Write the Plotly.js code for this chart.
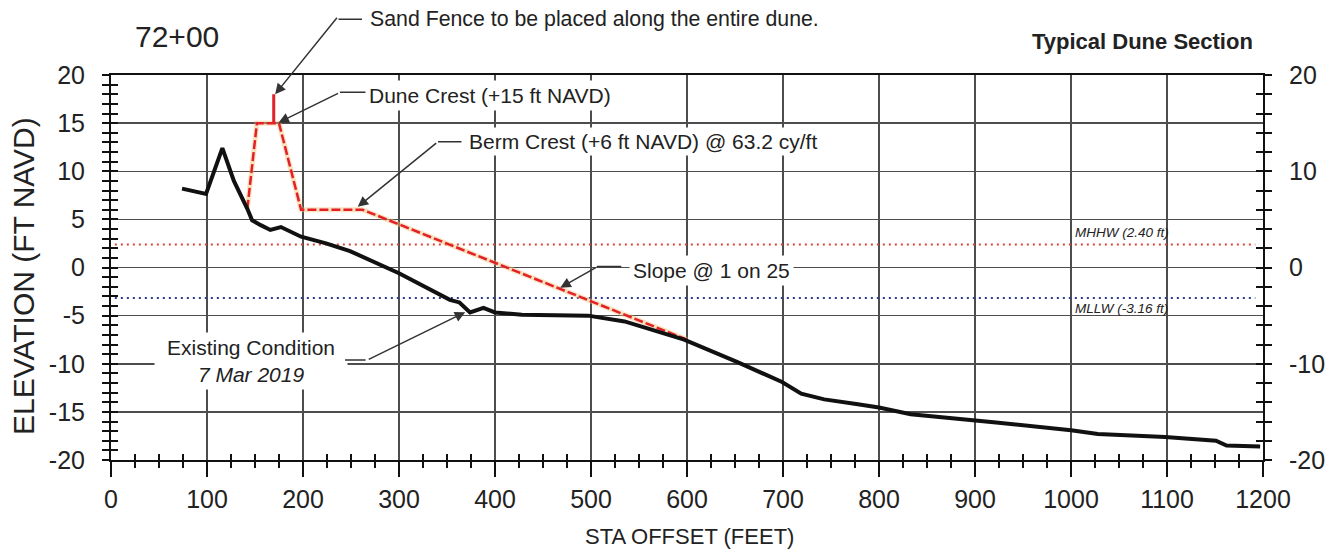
<!DOCTYPE html>
<html>
<head>
<meta charset="utf-8">
<script src="https://cdn.plot.ly/plotly-3.0.1.min.js"></script>
<style>html,body{margin:0;padding:0;background:#fff;}#chart{width:1325px;height:557px;}</style>
</head>
<body>
<div id="chart"></div>
<script>
// ---- Data ----
const existingX = [74, 99, 116, 128, 142, 147, 156, 166, 177, 198, 224, 249, 300, 353, 363, 374, 388, 400, 428, 497, 535, 597, 652, 699, 719, 743, 778, 800, 833, 898, 922, 1000, 1028, 1098, 1151, 1162, 1197];
const existingY = [8.2, 7.65, 12.4, 9.0, 6.1, 4.9, 4.4, 3.9, 4.2, 3.2, 2.5, 1.7, -0.6, -3.36, -3.63, -4.67, -4.2, -4.67, -4.9, -5.0, -5.6, -7.5, -9.8, -11.9, -13.1, -13.7, -14.2, -14.55, -15.25, -15.8, -16.1, -16.9, -17.3, -17.6, -18.0, -18.5, -18.6];
const designX = [142, 152, 175, 198, 262, 600];
const designY = [6.1, 15, 15, 6, 6, -7.5];
const fenceX = [169.5, 169.5];
const fenceY = [15, 18];
const mhhwX = [4, 1192];
const mhhwY = [2.4, 2.4];
const mllwX = [4, 1192];
const mllwY = [-3.16, -3.16];
const xTickVals = [0, 100, 200, 300, 400, 500, 600, 700, 800, 900, 1000, 1100, 1200];
const xTickText = ["0", "100", "200", "300", "400", "500", "600", "700", "800", "900", "1000", "1100", "1200"];
const yTickVals = [20, 15, 10, 5, 0, -5, -10, -15, -20];
const yTickText = ["20", "15", "10", "5", "0", "-5", "-10", "-15", "-20"];
const yRightVals = [20, 10, 0, -10, -20];
const yRightText = ["20", "10", "0", "-10", "-20"];

const FA = "'Liberation Sans', Arial, sans-serif";
const TXT = '#222';

const traces = [
  {x: mhhwX, y: mhhwY, mode: 'lines', line: {color: '#d9443a', width: 2, dash: '2px,4px'}, hoverinfo: 'skip'},
  {x: mllwX, y: mllwY, mode: 'lines', line: {color: '#2b3b8f', width: 2, dash: '2px,4px'}, hoverinfo: 'skip'},
  {x: designX, y: designY, mode: 'lines', line: {color: 'rgba(245,190,110,0.45)', width: 5}, hoverinfo: 'skip'},
  {x: designX, y: designY, mode: 'lines', line: {color: '#e3202a', width: 2.5, dash: '9px,3px'}, hoverinfo: 'skip'},
  {x: fenceX, y: fenceY, mode: 'lines', line: {color: '#e3202a', width: 3}, hoverinfo: 'skip'},
  {x: existingX, y: existingY, mode: 'lines', line: {color: '#111', width: 4}, hoverinfo: 'skip'},
  {x: [], y: [], xaxis: 'x2', yaxis: 'y2', hoverinfo: 'skip'},
  {x: [], y: [], xaxis: 'x', yaxis: 'y3', hoverinfo: 'skip'},
  {x: [], y: [], xaxis: 'x', yaxis: 'y4', hoverinfo: 'skip'}
];

const leader = {showarrow: true, arrowcolor: '#333', arrowwidth: 1.5, standoff: 0, startstandoff: 0, text: ''};
function line(x, y, ax, ay, yref) { return Object.assign({}, leader, {x: x, y: y, ax: ax, ay: ay, arrowhead: 0, yref: yref || 'y'}); }
function arrow(x, y, ax, ay) { return Object.assign({}, leader, {x: x, y: y, ax: ax, ay: ay, arrowhead: 2, arrowsize: 1.4}); }

const annotations = [
  {xref: 'paper', yref: 'paper', x: 0.019, y: 1.101, xanchor: 'left', yanchor: 'middle', text: '72+00', showarrow: false, font: {family: FA, size: 30, color: TXT}},
  {xref: 'paper', yref: 'paper', x: 0.993, y: 1.088, xanchor: 'right', yanchor: 'middle', text: '<b>Typical Dune Section</b>', showarrow: false, font: {family: FA, size: 22, color: TXT}},
  {xref: 'paper', yref: 'paper', x: -0.076, y: 0.479, xanchor: 'center', yanchor: 'middle', textangle: -90, text: 'ELEVATION (FT NAVD)', showarrow: false, font: {family: FA, size: 30, color: TXT}},
  {xref: 'paper', yref: 'paper', x: 0.5026, y: -0.199, xanchor: 'center', yanchor: 'middle', text: 'STA OFFSET (FEET)', showarrow: false, font: {family: FA, size: 22, color: TXT}},
  // Sand fence
  {x: 268, yref: 'paper', y: 1.145, xanchor: 'left', yanchor: 'middle', text: 'Sand Fence to be placed along the entire dune.', showarrow: false, font: {family: FA, size: 21.3, color: TXT}},
  line(237, 1.145, 25, 0, 'paper'),
  arrow(171, 18.0, 63, -78),
  // Dune crest
  {x: 267.7, y: 17.9, xanchor: 'left', yanchor: 'middle', text: 'Dune Crest (+15 ft NAVD)', showarrow: false, bgcolor: 'white', width: 258, height: 29, align: 'left', borderpad: 0, font: {family: FA, size: 21, color: TXT}},
  line(238.5, 18.2, 27, 0),
  arrow(174.5, 15.05, 61, -30),
  // Berm crest
  {x: 370, y: 13.07, xanchor: 'left', yanchor: 'middle', text: 'Berm Crest (+6 ft NAVD) @ 63.2 cy/ft', showarrow: false, bgcolor: 'white', borderpad: 2, font: {family: FA, size: 21, color: TXT}},
  line(340.6, 13.07, 25, 0),
  arrow(257, 6.3, 80, -65),
  // Slope
  {x: 540, y: -0.3, xanchor: 'left', yanchor: 'middle', text: 'Slope @ 1 on 25', showarrow: false, bgcolor: 'white', borderpad: 3, font: {family: FA, size: 21, color: TXT}},
  line(506, 0.1, 26, 0),
  arrow(468, -2.1, 37, -21),
  // Existing
  {x: 146, y: -9.74, xanchor: 'center', yanchor: 'middle', text: 'Existing Condition<br><i>7 Mar 2019</i>', showarrow: false, bgcolor: 'white', width: 192, height: 56, borderpad: 0, font: {family: FA, size: 21, color: TXT}},
  line(243.8, -9.6, 22, 0),
  arrow(369, -4.64, -98, 48),
  // Tidal datums
  {x: 1002, y: 3.6, xanchor: 'left', yanchor: 'middle', text: '<i>MHHW (2.40 ft)</i>', showarrow: false, font: {family: FA, size: 13.5, color: TXT}},
  {x: 1002, y: -4.27, xanchor: 'left', yanchor: 'middle', text: '<i>MLLW (-3.16 ft)</i>', showarrow: false, font: {family: FA, size: 13.5, color: TXT}}
];

const tickFont = {family: FA, size: 25, color: TXT};
const layout = {
  width: 1325, height: 557,
  margin: {l: 111, r: 62, t: 75, b: 97, pad: 0},
  paper_bgcolor: 'white', plot_bgcolor: 'white',
  showlegend: false,
  xaxis: {
    range: [0, 1200], tickvals: xTickVals, ticktext: xTickText, tickfont: tickFont,
    showgrid: true, gridcolor: '#4d4d4d', gridwidth: 1.5, zeroline: false,
    ticks: 'outside', ticklen: 15, tickwidth: 2, tickcolor: '#111',
    showline: true, linecolor: '#111', linewidth: 2, mirror: true,
    minor: {dtick: 25, ticks: 'outside', ticklen: 6, tickwidth: 2, tickcolor: '#111', showgrid: false},
    ticklabelstandoff: 1
  },
  xaxis2: {
    overlaying: 'x', matches: 'x', anchor: 'y', side: 'bottom', range: [0, 1200], showgrid: false, zeroline: false,
    showticklabels: false, ticks: '', dtick: 100,
    minor: {dtick: 25, ticks: 'inside', ticklen: 6, tickwidth: 2, tickcolor: '#111', showgrid: false}
  },
  yaxis: {
    range: [-20, 20], tickvals: yTickVals, ticktext: yTickText, tickfont: tickFont,
    showgrid: true, gridcolor: '#4d4d4d', gridwidth: 1.5, zeroline: false,
    ticks: 'outside', ticklen: 7, tickwidth: 2, tickcolor: '#111',
    showline: true, linecolor: '#111', linewidth: 2,
    minor: {dtick: 1, ticks: 'outside', ticklen: 7, tickwidth: 2, tickcolor: '#111', showgrid: false},
    ticklabelstandoff: 12
  },
  yaxis2: {
    overlaying: 'y', matches: 'y', anchor: 'x2', side: 'left', range: [-20, 20], showgrid: false, zeroline: false,
    showticklabels: false, tickvals: yTickVals, ticks: 'inside', ticklen: 7, tickwidth: 2, tickcolor: '#111',
    minor: {dtick: 1, ticks: 'inside', ticklen: 7, tickwidth: 2, tickcolor: '#111', showgrid: false}
  },
  yaxis3: {
    overlaying: 'y', matches: 'y', anchor: 'x', side: 'right', range: [-20, 20], showgrid: false, zeroline: false,
    tickvals: yRightVals, ticktext: yRightText, tickfont: tickFont,
    ticks: 'outside', ticklen: 7, tickwidth: 2, tickcolor: '#111',
    showline: true, linecolor: '#111', linewidth: 2,
    minor: {dtick: 2, ticks: 'outside', ticklen: 7, tickwidth: 2, tickcolor: '#111', showgrid: false},
    ticklabelstandoff: 12
  },
  yaxis4: {
    overlaying: 'y', matches: 'y', anchor: 'x', side: 'right', range: [-20, 20], showgrid: false, zeroline: false,
    showticklabels: false, tickvals: yRightVals, ticks: 'inside', ticklen: 7, tickwidth: 2, tickcolor: '#111',
    minor: {dtick: 2, ticks: 'inside', ticklen: 7, tickwidth: 2, tickcolor: '#111', showgrid: false}
  },
  annotations: annotations
};

Plotly.newPlot('chart', traces, layout, {staticPlot: true, displayModeBar: false});
</script>
</body>
</html>
